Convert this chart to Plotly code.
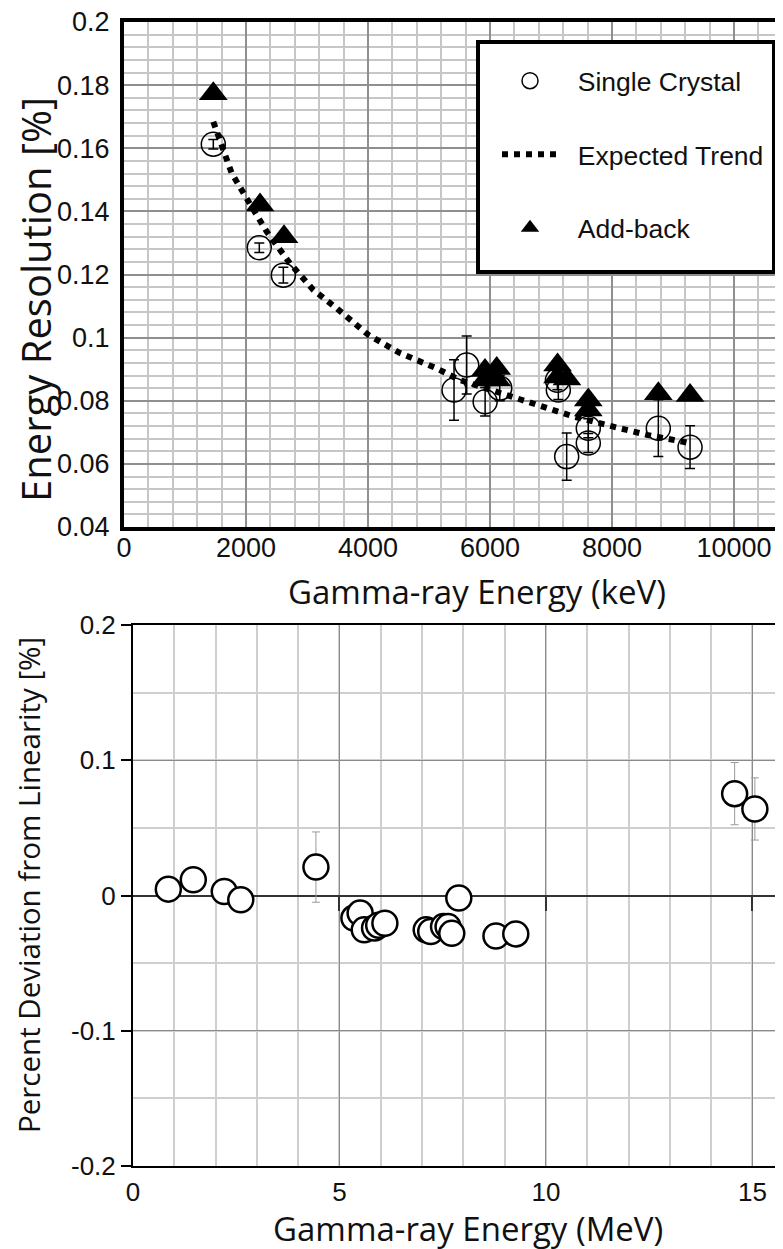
import plotly.graph_objects as go

# ---- top panel: energy resolution (keV) ----
sc_energy = [1464, 2218, 2612, 5410, 5618, 5920, 6160, 7105, 7120, 7257, 7611, 7611, 8759, 9279]
sc_res = [0.1613, 0.1285, 0.1198, 0.0834, 0.0913, 0.0797, 0.0840, 0.0865, 0.0834, 0.0623, 0.0713, 0.0666, 0.0713, 0.0653]
sc_err = [0.0015, 0.0015, 0.0025, 0.0096, 0.0092, 0.0045, 0.0040, 0.0030, 0.0030, 0.0075, 0.0030, 0.0030, 0.0090, 0.0068]

ab_energy = [1464, 2230, 2623, 5918, 5918, 6110, 6110, 7107, 7107, 7262, 7611, 7611, 8759, 9279]
ab_res = [0.1773, 0.1420, 0.1320, 0.0896, 0.0866, 0.0902, 0.0866, 0.0913, 0.0875, 0.0869, 0.0802, 0.0771, 0.0822, 0.0817]

trend_energy = [1464, 1765, 2011, 2339, 2721, 3104, 3486, 4010, 4525, 5120, 5500, 6330, 6770, 7370, 8020, 8570, 9170, 9280]
trend_res = [0.1684, 0.1521, 0.1441, 0.1336, 0.1235, 0.1151, 0.1093, 0.1008, 0.0951, 0.0903, 0.0866, 0.0813, 0.0787, 0.0750, 0.0718, 0.0692, 0.0670, 0.0665]

top_xticks = [0, 2000, 4000, 6000, 8000, 10000]
top_xlabels = ["0", "2000", "4000", "6000", "8000", "10000"]
top_yticks = [0.04, 0.06, 0.08, 0.1, 0.12, 0.14, 0.16, 0.18, 0.2]
top_ylabels = ["0.04", "0.06", "0.08", "0.1", "0.12", "0.14", "0.16", "0.18", "0.2"]

# ---- bottom panel: deviation from linearity (MeV) ----
lin_energy = [0.855, 1.46, 2.21, 2.61, 4.43, 5.35, 5.50, 5.60, 5.85, 5.95, 6.10,
              7.10, 7.21, 7.52, 7.63, 7.72, 7.89, 8.79, 9.27, 14.57, 15.06]
lin_dev = [0.0047, 0.0116, 0.0030, -0.0032, 0.0210, -0.0167, -0.0130, -0.0254, -0.0240, -0.0220, -0.0205,
           -0.0254, -0.0266, -0.0230, -0.0230, -0.0280, -0.0019, -0.0300, -0.0284, 0.0753, 0.0640]
lin_err = [0.003, 0.003, 0.003, 0.003, 0.026, 0.004, 0.004, 0.004, 0.004, 0.004, 0.004,
           0.004, 0.004, 0.004, 0.004, 0.004, 0.004, 0.004, 0.004, 0.023, 0.023]

bot_xticks = [0, 5, 10, 15]
bot_xlabels = ["0", "5", "10", "15"]
bot_yticks = [-0.2, -0.1, 0, 0.1, 0.2]
bot_ylabels = ["-0.2", "-0.1", "0", "0.1", "0.2"]

W, H = 783, 1249
OFF = 8  # page body margin shifts the figure by this much


def px_x(px):
    return (px - OFF) / W


def px_y(py):
    return 1 - (py - OFF) / H


TICKFONT = "Liberation Sans, Arial, sans-serif"
TITLEFONT = "Open Sans, Lato, sans-serif"
PAD = "\u00a0\u00a0"

fig = go.Figure()

fig.add_trace(go.Scatter(
    x=ab_energy, y=ab_res, mode="markers", name=PAD + "Add-back",
    marker=dict(symbol="triangle-up", size=25, color="black"),
    legendrank=3, legendgroup="c", xaxis="x", yaxis="y"))

fig.add_trace(go.Scatter(
    x=sc_energy, y=sc_res, mode="markers", name=PAD + "Single Crystal",
    marker=dict(symbol="circle-open", size=24, color="black", line=dict(width=1.5)),
    error_y=dict(type="data", array=sc_err, color="black", thickness=1.5, width=5),
    legendrank=1, legendgroup="a", xaxis="x", yaxis="y"))

fig.add_trace(go.Scatter(
    x=trend_energy, y=trend_res, mode="lines", name=PAD + "Expected Trend",
    line=dict(color="black", width=6, dash="6px,6px"),
    legendrank=2, legendgroup="b", xaxis="x", yaxis="y"))

fig.add_trace(go.Scatter(
    x=lin_energy, y=lin_dev, mode="markers", showlegend=False,
    marker=dict(symbol="circle", size=25, color="white", line=dict(color="black", width=2.5)),
    error_y=dict(type="data", array=lin_err, color="#9a9a9a", thickness=1, width=4),
    xaxis="x2", yaxis="y2"))

# empty trace so the zero-line tick axis is drawn
fig.add_trace(go.Scatter(x=[], y=[], showlegend=False, xaxis="x3", yaxis="y2"))

top_dom = [px_y(527), px_y(22)]
bot_dom = [px_y(1166), px_y(625)]

fig.update_layout(
    width=W, height=H, autosize=False,
    margin=dict(l=0, r=0, t=0, b=0, autoexpand=False),
    paper_bgcolor="white", plot_bgcolor="white",
    showlegend=True,
    xaxis=dict(
        domain=[px_x(124), 1], range=[0, 10934], anchor="y", automargin=False,
        tickvals=top_xticks, ticktext=top_xlabels, ticklabeloverflow="allow",
        tickfont=dict(family=TICKFONT, size=27, color="#111"),
        ticks="", ticklabelstandoff=-6,
        showline=True, linecolor="black", linewidth=4, mirror=True,
        showgrid=True, gridcolor="#8f8f8f", gridwidth=2,
        minor=dict(dtick=400, tick0=0, showgrid=True, gridcolor="#c6c6c6", gridwidth=1.5),
        zeroline=False),
    yaxis=dict(
        domain=top_dom, range=[0.04, 0.2], anchor="x", automargin=False,
        tickvals=top_yticks, ticktext=top_ylabels, ticklabeloverflow="allow",
        tickfont=dict(family=TICKFONT, size=27, color="#111"),
        ticks="outside", ticklen=5, tickcolor="rgba(0,0,0,0)",
        showline=True, linecolor="black", linewidth=4,
        showgrid=True, gridcolor="#8f8f8f", gridwidth=2,
        minor=dict(dtick=0.004, tick0=0.04, showgrid=True, gridcolor="#c6c6c6", gridwidth=1.5),
        zeroline=False),
    xaxis2=dict(
        domain=[px_x(133), 1], range=[0, 15.935], anchor="y2", automargin=False,
        tickvals=bot_xticks, ticktext=bot_xlabels, ticklabeloverflow="allow",
        tickfont=dict(family=TICKFONT, size=26, color="#111"),
        ticks="", ticklabelstandoff=2,
        showline=True, linecolor="black", linewidth=2, mirror=True,
        showgrid=True, gridcolor="#8a8a8a", gridwidth=1,
        minor=dict(dtick=1, tick0=0, showgrid=True, gridcolor="#cfcfcf", gridwidth=1.5),
        zeroline=False),
    xaxis3=dict(
        domain=[px_x(133), 1], range=[0, 15.935], overlaying="x2", automargin=False,
        anchor="free", position=(bot_dom[0] + bot_dom[1]) / 2,
        tickvals=bot_xticks[1:], showticklabels=False,
        ticks="outside", ticklen=14, tickwidth=1.5, tickcolor="#333",
        showline=False, showgrid=False, zeroline=False),
    yaxis2=dict(
        domain=bot_dom, range=[-0.2, 0.2], anchor="x2", automargin=False,
        tickvals=bot_yticks, ticktext=bot_ylabels, ticklabeloverflow="allow",
        tickfont=dict(family=TICKFONT, size=26, color="#111"),
        ticks="outside", ticklen=10, tickwidth=1.5, tickcolor="black",
        showline=True, linecolor="black", linewidth=2,
        showgrid=True, gridcolor="#8a8a8a", gridwidth=1,
        minor=dict(dtick=0.05, tick0=0, showgrid=True, gridcolor="#cfcfcf", gridwidth=1.5),
        zeroline=True, zerolinecolor="#333", zerolinewidth=1.5),
    legend=dict(
        x=px_x(497), y=px_y(57), xanchor="left", yanchor="top",
        bgcolor="rgba(0,0,0,0)", borderwidth=0,
        font=dict(family=TICKFONT, size=26.5, color="#111"),
        tracegroupgap=36, itemwidth=56, traceorder="grouped"),
    shapes=[dict(
        type="rect", xref="paper", yref="paper", layer="above",
        x0=px_x(478), x1=px_x(774), y0=px_y(272), y1=px_y(42),
        line=dict(color="black", width=4), fillcolor="white")],
    annotations=[
        dict(text="Energy Resolution [%]", xref="paper", yref="paper",
             x=px_x(35), y=px_y(300), xanchor="center", yanchor="middle",
             textangle=-90, showarrow=False,
             font=dict(family=TITLEFONT, size=40, color="#111")),
        dict(text="Gamma-ray Energy (keV)", xref="paper", yref="paper",
             x=px_x(477), y=px_y(591), xanchor="center", yanchor="middle",
             showarrow=False, font=dict(family=TITLEFONT, size=33, color="#111")),
        dict(text="Percent Deviation from Linearity [%]", xref="paper", yref="paper",
             x=px_x(28), y=px_y(885), xanchor="center", yanchor="middle",
             textangle=-90, showarrow=False,
             font=dict(family=TITLEFONT, size=29.5, color="#111")),
        dict(text="Gamma-ray Energy (MeV)", xref="paper", yref="paper",
             x=px_x(468), y=px_y(1228), xanchor="center", yanchor="middle",
             showarrow=False, font=dict(family=TITLEFONT, size=33, color="#111")),
    ],
)

fig.write_html("out.html")
